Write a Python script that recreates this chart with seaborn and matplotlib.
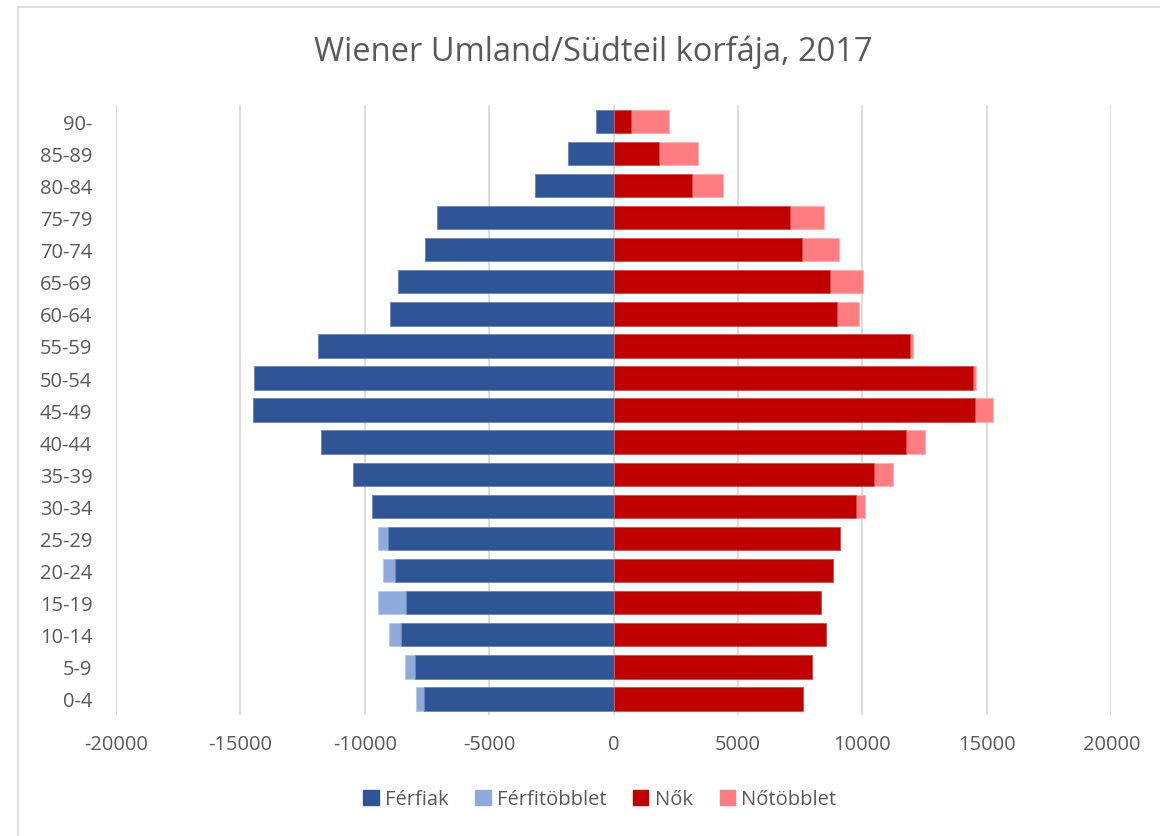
import pandas as pd
import matplotlib.pyplot as plt
import seaborn as sns
from matplotlib.patches import Patch, Rectangle

# Korcsoportok felülről lefelé
korcsoportok = ['90-', '85-89', '80-84', '75-79', '70-74', '65-69', '60-64', '55-59',
                '50-54', '45-49', '40-44', '35-39', '30-34', '25-29', '20-24', '15-19',
                '10-14', '5-9', '0-4']

# Férfiak (közös rész) és férfitöbblet
ferfiak = [700, 1820, 3170, 7100, 7600, 8680, 8970, 11890,
           14440, 14510, 11750, 10490, 9710, 9050, 8770, 8330,
           8530, 7970, 7610]
ferfitobblet = [0, 0, 0, 0, 0, 0, 0, 0,
                0, 0, 0, 0, 0, 410, 480, 1150,
                490, 400, 320]

# Nők (közös rész) és nőtöbblet
nok = [710, 1830, 3150, 7100, 7590, 8690, 8980, 11900,
       14430, 14510, 11740, 10480, 9730, 9080, 8810, 8330,
       8530, 7980, 7620]
notobblet = [1510, 1550, 1260, 1360, 1460, 1350, 900, 130,
             150, 720, 770, 740, 390, 0, 0, 0,
             0, 0, 0]

df = pd.DataFrame({
    'kor': korcsoportok,
    'ferfi': [-v for v in ferfiak],
    'ferfi_ossz': [-(a + b) for a, b in zip(ferfiak, ferfitobblet)],
    'no': nok,
    'no_ossz': [a + b for a, b in zip(nok, notobblet)],
})

szin_ferfi = '#2F5597'
szin_ferfi_t = '#8FAADC'
szin_no = '#C00000'
szin_no_t = '#FF7C80'
szoveg = '#595959'

sns.set_theme(style='white')
plt.rcParams['font.family'] = ['Open Sans', 'DejaVu Sans']

fig = plt.figure(figsize=(11.6, 8.37), dpi=100)
ax = fig.add_axes([0.1, 0.1446, 0.858, 0.7285])

# külső rész (többlet) először, a közös rész rá
kw = dict(orient='h', width=0.73, linewidth=0.6, order=korcsoportok, ax=ax)
sns.barplot(data=df, x='ferfi_ossz', y='kor', color=szin_ferfi_t, edgecolor='#b4c7e7', saturation=1, **kw)
sns.barplot(data=df, x='ferfi', y='kor', color=szin_ferfi, edgecolor='#6f8bbf', saturation=1, **kw)
sns.barplot(data=df, x='no_ossz', y='kor', color=szin_no_t, edgecolor='#ffb0b2', saturation=1, **kw)
sns.barplot(data=df, x='no', y='kor', color=szin_no, edgecolor='#d65050', saturation=1, **kw)

ax.set_xlim(-20000, 20000)
ax.set_ylim(18.5, -0.5)
ax.set_xticks(range(-20000, 20001, 5000))
ax.set_xticklabels([str(v) for v in range(-20000, 20001, 5000)])
ax.grid(axis='x', color='#d9d9d9', linewidth=1.3, zorder=0)
ax.set_axisbelow(True)
ax.axvline(0, color='#d9d9d9', linewidth=1.3, zorder=0)
for s in ax.spines.values():
    s.set_visible(False)
ax.set_xlabel('')
ax.set_ylabel('')
ax.tick_params(axis='both', length=0, labelsize=14.5, labelcolor=szoveg)
ax.tick_params(axis='x', pad=14)
ax.tick_params(axis='y', pad=17)

fig.text(0.511, 0.938, 'Wiener Umland/Südteil korfája, 2017', ha='center', va='center',
         fontsize=23.5, color=szoveg)

kezek = [Patch(color=szin_ferfi, label='Férfiak'),
         Patch(color=szin_ferfi_t, label='Férfitöbblet'),
         Patch(color=szin_no, label='Nők'),
         Patch(color=szin_no_t, label='Nőtöbblet')]
leg = fig.legend(handles=kezek, loc='center', bbox_to_anchor=(0.517, 0.044), ncol=4,
                 frameon=False, fontsize=14.5, handlelength=0.75, handleheight=0.75,
                 handletextpad=0.3, columnspacing=1.35)
for t in leg.get_texts():
    t.set_color(szoveg)

# diagramterület kerete
fig.patches.append(Rectangle((18 / 1160, -0.1), 1.2, 1.1 - 8 / 837, transform=fig.transFigure,
                             fill=False, edgecolor='#d9d9d9', linewidth=1.2))

plt.savefig('out.png', dpi=100)
plt.close()
